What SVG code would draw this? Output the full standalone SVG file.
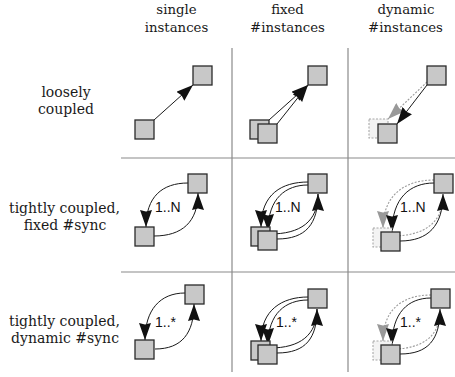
<svg xmlns="http://www.w3.org/2000/svg" width="455" height="377" viewBox="0 0 455 377">
<style>
.bg{fill:#ffffff}
.grid{stroke:#8a8a8a;stroke-width:1.2;fill:none}
.hdr{font-family:"DejaVu Serif","Liberation Serif",serif;font-size:13.3px;fill:#1a1a1a;text-anchor:middle}
.row{font-family:"DejaVu Serif","Liberation Serif",serif;font-size:14px;fill:#1a1a1a;text-anchor:middle}
.lbl{font-family:"Liberation Sans",Arial,sans-serif;font-size:14px;fill:#111}
.sq{fill:#c8c8c8;stroke:#2a2a2a;stroke-width:1.3}
.ghost{fill:#f3f3f3;stroke:#a8a8a8;stroke-width:1.1;stroke-dasharray:2,1.5}
.c{fill:none;stroke:#1a1a1a;stroke-width:1}
.g{fill:none;stroke:#9a9a9a;stroke-width:1.1;stroke-dasharray:2,1.5}
.ca{marker-end:url(#ah)}
.ga{marker-end:url(#gh)}
</style>
<defs>
<marker id="ah" markerUnits="userSpaceOnUse" viewBox="0 0 17 12" markerWidth="17" markerHeight="12" refX="17" refY="6" orient="auto">
<path d="M0,0 L17,6 L0,12 L1.5,6 z" fill="#111"/>
</marker>
<marker id="gh" markerUnits="userSpaceOnUse" viewBox="0 0 17 12" markerWidth="17" markerHeight="12" refX="17" refY="6" orient="auto">
<path d="M0,0 L17,6 L0,12 L1.5,6 z" fill="#999"/>
</marker>
</defs>
<rect class="bg" x="0" y="0" width="455" height="377"/>
<g id="grid">
<line class="grid" x1="232" y1="48" x2="232" y2="372"/>
<line class="grid" x1="348" y1="48" x2="348" y2="372"/>
<line class="grid" x1="121" y1="158" x2="455" y2="158"/>
<line class="grid" x1="121" y1="272" x2="455" y2="272"/>
</g>
<g id="headers">
<text class="hdr" x="176.5" y="14">single</text>
<text class="hdr" x="176.5" y="31.5">instances</text>
<text class="hdr" x="287.5" y="14">fixed</text>
<text class="hdr" x="287.5" y="31.5">#instances</text>
<text class="hdr" x="406" y="14">dynamic</text>
<text class="hdr" x="405.5" y="31.5">#instances</text>
<text class="row" x="66" y="97">loosely</text>
<text class="row" x="66" y="114">coupled</text>
<text class="row" x="64.5" y="213">tightly coupled,</text>
<text class="row" x="65" y="230">fixed #sync</text>
<text class="row" x="64.5" y="326">tightly coupled,</text>
<text class="row" x="65" y="343">dynamic #sync</text>
</g>
<g id="connectors">
<!-- row 1 -->
<path class="c ca" d="M154,120 L193,85"/>
<path class="c ca" d="M269,120 L308,85"/>
<path class="c ca" d="M277,124 L308,85"/>
<path class="g ga" d="M427,82 L388,119"/>
<path class="c ca" d="M427,85 L397,124"/>
<!-- row 2 -->
<path class="c ca" d="M188,183 C162,183 146,197 146,227"/>
<path class="c ca" d="M154,236 C182,236 198,222 198,193"/>
<path class="c ca" d="M308,182 C282,182 261,194 261,227"/>
<path class="c ca" d="M308,185 C286,185 268,198 268,231"/>
<path class="c" d="M270,234 C300,234 318,222 318,194"/>
<path class="c ca" d="M277,239 C306,239 318,224 318,194"/>
<path class="g ga" d="M434,180 C405,180 383,195 383,228"/>
<path class="c ca" d="M434,183 C410,183 392,198 392,232"/>
<path class="g" d="M392,236 C425,236 443,222 443,196"/>
<path class="c ca" d="M400,241 C428,241 443,226 443,194"/>
<!-- row 3 -->
<path class="c ca" d="M185,293 C160,293 145,310 145,340"/>
<path class="c ca" d="M155,349 C182,349 194,333 194,304"/>
<path class="c ca" d="M308,297 C282,297 261,310 261,341"/>
<path class="c ca" d="M308,300 C286,300 268,313 268,345"/>
<path class="c" d="M270,348 C300,348 317,335 317,309"/>
<path class="c ca" d="M277,353 C306,353 317,338 317,309"/>
<path class="g ga" d="M431,295 C402,295 383,310 383,341"/>
<path class="c ca" d="M431,298 C408,298 392,313 392,345"/>
<path class="g" d="M392,349 C424,349 440,335 440,311"/>
<path class="c ca" d="M400,354 C428,354 440,340 440,309"/>
<text class="lbl" x="155" y="212">1..N</text>
<text class="lbl" x="275" y="212">1..N</text>
<text class="lbl" x="400" y="212">1..N</text>
<text class="lbl" x="155" y="327">1..*</text>
<text class="lbl" x="276" y="327">1..*</text>
<text class="lbl" x="400" y="327">1..*</text>
</g>
<g id="n11a"><rect class="sq" x="135" y="120" width="19" height="19"/></g>
<g id="n11b"><rect class="sq" x="193" y="66" width="19" height="19"/></g>
<g id="n12b"><rect class="sq" x="308" y="66" width="19" height="19"/></g>
<g id="n12a1"><rect class="sq" x="250" y="120" width="19" height="19"/></g>
<g id="n12a2"><rect class="sq" x="258" y="124" width="19" height="19"/></g>
<g id="n13b"><rect class="sq" x="427" y="66" width="19" height="19"/></g>
<g id="n13g"><rect class="ghost" x="369" y="119" width="19" height="19"/></g>
<g id="n13a"><rect class="sq" x="378" y="124" width="19" height="19"/></g>
<g id="n21b"><rect class="sq" x="188" y="174" width="19" height="19"/></g>
<g id="n21a"><rect class="sq" x="135" y="227" width="19" height="19"/></g>
<g id="n22b"><rect class="sq" x="308" y="174" width="19" height="19"/></g>
<g id="n22a1"><rect class="sq" x="251" y="227" width="19" height="19"/></g>
<g id="n22a2"><rect class="sq" x="258" y="231" width="19" height="19"/></g>
<g id="n23b"><rect class="sq" x="434" y="174" width="19" height="19"/></g>
<g id="n23g"><rect class="ghost" x="373" y="228" width="19" height="19"/></g>
<g id="n23a"><rect class="sq" x="381" y="232" width="19" height="19"/></g>
<g id="n31b"><rect class="sq" x="185" y="285" width="19" height="19"/></g>
<g id="n31a"><rect class="sq" x="135" y="340" width="19" height="19"/></g>
<g id="n32b"><rect class="sq" x="308" y="289" width="19" height="19"/></g>
<g id="n32a1"><rect class="sq" x="251" y="341" width="19" height="19"/></g>
<g id="n32a2"><rect class="sq" x="258" y="345" width="19" height="19"/></g>
<g id="n33b"><rect class="sq" x="431" y="289" width="19" height="19"/></g>
<g id="n33g"><rect class="ghost" x="373" y="341" width="19" height="19"/></g>
<g id="n33a"><rect class="sq" x="381" y="345" width="19" height="19"/></g>
</svg>
